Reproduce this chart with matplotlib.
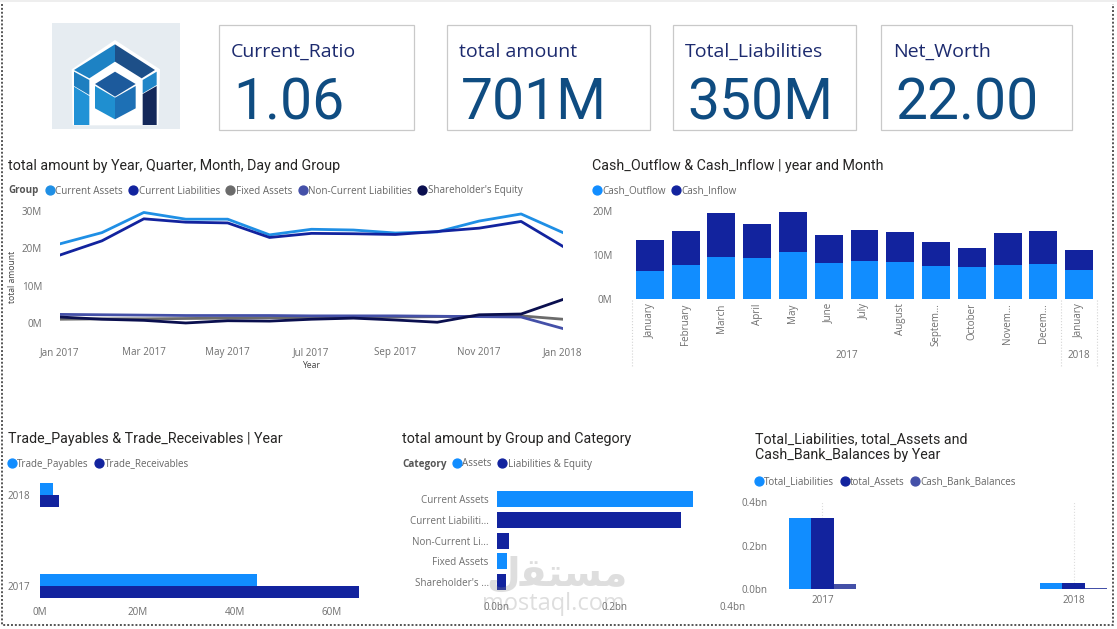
import matplotlib
matplotlib.use("Agg")
import matplotlib.pyplot as plt
from matplotlib.lines import Line2D
from matplotlib.patches import Polygon, Rectangle
import numpy as np

W, H = 1117, 629

# colours
BLUE = "#118DFF"
NAVY = "#12239E"
INDIGO = "#4450A8"
GREY_TXT = "#6f6f6f"
TITLE = "#252423"
TICK_SIZE = 7.1

# line chart
line_months = ["Jan 2017", "Mar 2017", "May 2017", "Jul 2017", "Sep 2017", "Nov 2017", "Jan 2018"]
current_assets = [21.2, 24.2, 29.6, 27.8, 27.8, 23.6, 25.1, 24.9, 24.1, 24.4, 27.3, 29.2, 24.2]
current_liab = [18.2, 22.0, 27.9, 27.0, 26.8, 22.9, 24.0, 23.9, 23.7, 24.5, 25.4, 27.2, 20.5]
fixed_assets = [1.0, 1.1, 1.1, 1.2, 1.3, 1.4, 1.5, 1.5, 1.6, 1.7, 1.8, 1.9, 1.0]
non_current = [2.3, 2.2, 2.1, 2.0, 2.0, 2.0, 1.9, 1.9, 1.9, 1.8, 1.7, 1.6, -1.5]
equity = [1.6, 1.0, 0.7, 0.0, 0.6, 0.5, 1.0, 1.3, 0.8, 0.2, 2.2, 2.4, 6.3]

# stacked columns
cash_months = ["January", "February", "March", "April", "May", "June", "July", "August",
               "Septem...", "October", "Novem...", "Decem...", "January"]
cash_outflow = [6.4, 7.7, 9.5, 9.3, 10.7, 8.2, 8.6, 8.4, 7.5, 7.2, 7.7, 7.9, 6.6]
cash_inflow = [7.0, 7.7, 10.1, 7.7, 9.2, 6.3, 7.2, 6.8, 5.5, 4.3, 7.3, 7.6, 4.6]

# trade bars
trade_years = ["2017", "2018"]
trade_payables = [44.5, 2.7]
trade_receivables = [65.5, 3.9]

# group bars
groups = ["Current Assets", "Current Liabiliti...", "Non-Current Li...", "Fixed Assets", "Shareholder's ..."]
group_amount = [0.333, 0.312, 0.020, 0.017, 0.016]
group_colors = [BLUE, NAVY, NAVY, BLUE, NAVY]

# year columns
bal_years = ["2017", "2018"]
total_liabilities = [0.326, 0.026]
total_assets = [0.326, 0.026]
cash_bank = [0.022, 0.004]

# cards
card_labels = ["Current_Ratio", "total amount", "Total_Liabilities", "Net_Worth"]
card_values = ["1.06", "701M", "350M", "22.00"]

plt.rcParams["font.family"] = ["Open Sans", "DejaVu Sans"]
fig = plt.figure(figsize=(W / 100, H / 100), dpi=100)


def px_axes(left, top, right, bottom):
    ax = fig.add_axes([left / W, 1 - bottom / H, (right - left) / W, (bottom - top) / H])
    for s in ax.spines.values():
        s.set_visible(False)
    ax.tick_params(length=0, labelsize=TICK_SIZE, labelcolor=GREY_TXT, pad=4)
    return ax


def legend(colors, labels, x, y):
    handles = [Line2D([], [], marker="o", linestyle="none", color=c, markersize=6.4) for c in colors]
    fig.legend(handles, labels, loc="center left", bbox_to_anchor=(x / W, 1 - y / H), ncols=len(labels),
               frameon=False, fontsize=TICK_SIZE, labelcolor="#666666", handletextpad=0.05, columnspacing=0.55,
               borderpad=0, borderaxespad=0, handlelength=1.0)


# line chart
ax1 = px_axes(60, 205, 563, 340)
for vals, c in [(fixed_assets, "#6b6b6b"), (current_assets, "#1F8FE5"), (current_liab, NAVY),
                (non_current, INDIGO), (equity, "#0A0F4F")]:
    ax1.plot(range(13), vals, color=c, linewidth=2.0, solid_joinstyle="round")
ax1.set_xlim(0, 12)
ax1.set_ylim(-4.56, 31.6)
ax1.set_xticks(range(0, 13, 2), line_months)
ax1.set_yticks([0, 10, 20, 30], ["0M", "10M", "20M", "30M"])
ax1.tick_params(axis="x", pad=5)
ax1.tick_params(axis="y", pad=13)

# stacked columns
ax2 = px_axes(632, 205, 1097, 299)
xs = np.arange(13)
ax2.bar(xs, cash_outflow, width=0.78, color=BLUE)
ax2.bar(xs, cash_inflow, width=0.78, bottom=cash_outflow, color=NAVY)
ax2.set_xlim(-0.5, 12.5)
ax2.set_ylim(0, 21.4)
ax2.set_xticks(xs, cash_months, rotation=90)
ax2.set_yticks([0, 10, 20], ["0M", "10M", "20M"])
ax2.tick_params(axis="y", pad=14)
ax2.tick_params(axis="x", pad=3)

# trade bars
ax3 = px_axes(40, 478, 370, 601)
ys = np.arange(2)
ax3.barh(ys + 0.066, trade_payables, height=0.132, color=BLUE)
ax3.barh(ys - 0.066, trade_receivables, height=0.132, color=NAVY)
ax3.set_xlim(0, 67.8)
ax3.set_ylim(-0.165, 1.187)
ax3.set_yticks(ys, trade_years)
ax3.set_xticks([0, 20, 40, 60], ["0M", "20M", "40M", "60M"])
ax3.tick_params(axis="y", pad=7)

# group bars
ax4 = px_axes(497, 488, 737, 592)
ax4.barh(range(5), group_amount, height=0.77, color=group_colors)
ax4.set_xlim(0, 0.4068)
ax4.set_ylim(4.48, -0.53)
ax4.set_yticks(range(5), groups)
ax4.set_xticks([0, 0.2, 0.4], ["0.0bn", "0.2bn", "0.4bn"])
ax4.tick_params(axis="y", pad=6)
ax4.tick_params(axis="x", pad=7)

# year columns
ax5 = px_axes(780, 502, 1110, 589)
yrs = np.arange(2)
bw = 0.089
ax5.grid(axis="x", color="#dddddd", linestyle=":", linewidth=0.8)
ax5.set_axisbelow(True)
ax5.bar(yrs - bw, total_liabilities, width=bw, color=BLUE)
ax5.bar(yrs, total_assets, width=bw, color=NAVY)
ax5.bar(yrs + bw, cash_bank, width=bw, color=INDIGO)
ax5.set_xlim(-0.169, 1.145)
ax5.set_ylim(0, 0.4)
ax5.set_xticks(yrs, bal_years)
ax5.set_yticks([0, 0.2, 0.4], ["0.0bn", "0.2bn", "0.4bn"])
ax5.tick_params(axis="y", pad=9)

# overlay in pixel coordinates: cards, titles, logo, frame
ov = fig.add_axes([0, 0, 1, 1], zorder=10)
ov.set_xlim(0, W)
ov.set_ylim(H, 0)
ov.axis("off")
ov.patch.set_alpha(0)

# page frame
ov.add_patch(Rectangle((0, 0), W, 2, color="#eeeeee", lw=0))
ov.plot([2, 2, 1113, 1113], [4, 625, 625, 4], color="#555555", linewidth=1.4, linestyle=(0, (1, 1)))

# cards
card_boxes = [(219, 414), (447, 650), (673, 856), (881, 1072)]
for (x0, x1), lab, val in zip(card_boxes, card_labels, card_values):
    ov.add_patch(Rectangle((x0, 25), x1 - x0, 105, fill=False, edgecolor="#c9c9c9", linewidth=0.9))
    ov.text(x0 + 12, 52, lab, fontsize=14, color="#1c2a6e", va="center", family=["Open Sans"])
    ov.text(x0 + 14, 104, val, fontsize=41, color="#0f4c81", va="center",
            family=["Liberation Sans Narrow", "Roboto"])

# logo
ov.add_patch(Rectangle((52, 23), 128, 106, color="#e6ecf1", lw=0))
logo_polys = [
    ("#ffffff", [(345, 120), (480, 208), (475, 376), (218, 376), (215, 208)]),
    ("#1d82c4", [(345, 133), (345, 185), (268, 235), (222, 210)]),
    ("#1d4f88", [(345, 133), (465, 210), (425, 235), (345, 185)]),
    ("#1f7fc0", [(222, 215), (268, 240), (268, 285), (222, 258)]),
    ("#2192d6", [(222, 260), (268, 288), (268, 375), (222, 375)]),
    ("#2186c8", [(428, 240), (470, 215), (470, 255), (428, 280)]),
    ("#14285a", [(428, 282), (470, 258), (470, 375), (428, 375)]),
    ("#1c5a9c", [(345, 215), (407, 252), (345, 290), (285, 252)]),
    ("#1f8fd0", [(285, 258), (345, 293), (345, 358), (285, 325)]),
    ("#1d70b5", [(345, 293), (407, 258), (407, 325), (345, 358)]),
]
for c, pts in logo_polys:
    ov.add_patch(Polygon(np.array(pts) / 3.0, closed=True, color=c, lw=0))

# titles
titles = [
    (8, 166, "total amount by Year, Quarter, Month, Day and Group"),
    (592, 166, "Cash_Outflow & Cash_Inflow | year and Month"),
    (8, 439, "Trade_Payables & Trade_Receivables | Year"),
    (402, 439, "total amount by Group and Category"),
    (755, 439, "Total_Liabilities, total_Assets and"),
    (755, 455, "Cash_Bank_Balances by Year"),
]
for x, y, t in titles:
    ov.text(x, y, t, fontsize=10.25, color=TITLE, va="center", family=["Roboto"])

# legends
ov.text(8, 191, "Group", fontsize=TICK_SIZE, color="#555555", weight="bold", va="center")
legend(["#1F8FE5", NAVY, "#6b6b6b", INDIGO, "#0A0F4F"],
       ["Current Assets", "Current Liabilities", "Fixed Assets", "Non-Current Liabilities", "Shareholder's Equity"],
       45, 191)
legend([BLUE, NAVY], ["Cash_Outflow", "Cash_Inflow"], 592, 191)
legend([BLUE, NAVY], ["Trade_Payables", "Trade_Receivables"], 7, 464)
ov.text(402, 464, "Category", fontsize=TICK_SIZE, color="#555555", weight="bold", va="center")
legend([BLUE, NAVY], ["Assets", "Liabilities & Equity"], 452, 464)
legend([BLUE, NAVY, INDIGO], ["Total_Liabilities", "total_Assets", "Cash_Bank_Balances"], 754, 482)

# axis titles
ov.text(13, 277, "total amount", fontsize=6.2, color="#444444", rotation=90, va="center", ha="center")
ov.text(311, 366, "Year", fontsize=6.2, color="#444444", va="center", ha="center")

# year band under the month labels
ov.text(847, 356, "2017", fontsize=TICK_SIZE, color=GREY_TXT, va="center", ha="center")
ov.text(1079, 356, "2018", fontsize=TICK_SIZE, color=GREY_TXT, va="center", ha="center")
for x in [632, 1061, 1097]:
    ov.plot([x, x], [300, 366], color="#d4d4d4", linewidth=0.8, linestyle=":")

# watermark
ov.text(557, 574, "\ufedd\ufed8\ufe98\ufeb4\ufee3", fontsize=28, color="#8a8a8a", alpha=0.28, va="center", ha="center",
        family=["DejaVu Sans"], weight="bold")
ov.text(553, 604, "mostaql.com", fontsize=17, color="#8a8a8a", alpha=0.28, va="center", ha="center")

fig.savefig("out.png", dpi=100)
